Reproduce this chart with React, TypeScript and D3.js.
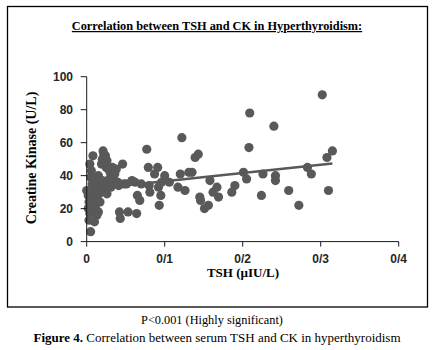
import * as d3 from "d3";

// TSH (µIU/L) values of each patient
const tsh = [
  0.0, 0.002, 0.003, 0.002, 0.004, 0.003, 0.005, 0.004, 0.006, 0.008, 0.005, 0.007,
  0.009, 0.006, 0.008, 0.01, 0.007, 0.009, 0.011, 0.012, 0.013, 0.014, 0.012, 0.015,
  0.016, 0.017, 0.015, 0.018, 0.019, 0.02, 0.021, 0.022, 0.024, 0.026, 0.025, 0.028,
  0.02, 0.022, 0.024, 0.026, 0.027, 0.029, 0.03, 0.031, 0.032, 0.033, 0.034, 0.035,
  0.036, 0.038, 0.04, 0.041, 0.042, 0.043, 0.046, 0.048, 0.051, 0.053, 0.013, 0.01,
  0.058, 0.062, 0.064, 0.065, 0.068, 0.07, 0.077, 0.079, 0.08, 0.081, 0.087, 0.091,
  0.092, 0.093, 0.095, 0.096, 0.1, 0.106, 0.117, 0.12, 0.122, 0.126, 0.131, 0.135,
  0.139, 0.143, 0.145, 0.146, 0.151, 0.156, 0.158, 0.162, 0.167, 0.169, 0.186, 0.19,
  0.201, 0.205, 0.208, 0.209, 0.224, 0.226, 0.24, 0.242, 0.242, 0.259, 0.272, 0.283,
  0.288, 0.302, 0.308, 0.31, 0.315,
];

// Creatine kinase (U/L) values, same order
const ck = [
  31, 28, 24, 20, 17, 13, 6, 47, 43, 52, 39, 35,
  33, 30, 27, 25, 22, 19, 21, 28, 31, 35, 38, 40,
  29, 24, 18, 33, 47, 50, 55, 53, 52, 49, 45, 44,
  37, 34, 31, 29, 36, 38, 42, 33, 35, 45, 39, 37,
  41, 44, 36, 34, 18, 14, 47, 35, 35, 18, 16, 12,
  37, 36, 17, 28, 25, 35, 56, 45, 34, 30, 41, 45,
  33, 22, 28, 36, 40, 36, 33, 41, 63, 31, 42, 42,
  51, 53, 27, 25, 20, 22, 37, 30, 33, 27, 30, 34,
  42, 38, 57, 78, 28, 41, 70, 40, 37, 31, 22, 45,
  41, 89, 51, 31, 55,
];

const xTicks = [0, 0.1, 0.2, 0.3, 0.4];
const xTickLabels = ["0", "0/1", "0/2", "0/3", "0/4"];
const yTicks = [0, 20, 40, 60, 80, 100];

const App = () => {
  const width = 439;
  const height = 350;
  const margin = { top: 76.7, right: 40.3, bottom: 108.4, left: 86.7 };

  const x = d3
    .scaleLinear()
    .domain([0, 0.4])
    .range([margin.left, width - margin.right]);
  const y = d3
    .scaleLinear()
    .domain([0, 100])
    .range([height - margin.bottom, margin.top]);

  const points = tsh.map((t, i) => ({ t, c: ck[i] }));

  // least squares trendline over the data range
  const mx = d3.mean(tsh) || 0;
  const my = d3.mean(ck) || 0;
  const sxy = d3.sum(points, (p) => (p.t - mx) * (p.c - my));
  const sxx = d3.sum(points, (p) => (p.t - mx) ** 2);
  const slope = sxy / sxx;
  const intercept = my - slope * mx;
  const [tMin, tMax] = d3.extent(tsh) as [number, number];
  const trend = d3
    .line<number>()
    .x((t) => x(t))
    .y((t) => y(intercept + slope * t))([tMin, tMax]);

  const axisColor = "#1a1a1a";
  const dotColor = "#595959";
  const y0 = y(0);

  return (
    <svg
      width={width}
      height={height}
      style={{ position: "absolute", left: 0, top: 0, background: "#fff" }}
    >
      <rect x={7.5} y={6.5} width={420} height={300.5} fill="none" stroke="#000" strokeWidth={1.3} />
      <text
        x={217}
        y={30}
        textAnchor="middle"
        fontFamily="Liberation Serif"
        fontWeight="bold"
        fontSize={12.3}
        textDecoration="underline"
      >
        Correlation between TSH and CK in Hyperthyroidism:
      </text>

      {points.map((p, i) => (
        <circle key={i} cx={x(p.t)} cy={y(p.c)} r={4.6} fill={dotColor} />
      ))}
      <path d={trend || ""} stroke={dotColor} strokeWidth={2.5} fill="none" />

      <line x1={x(0)} x2={x(0)} y1={y(100)} y2={y0} stroke={axisColor} />
      {yTicks.map((v) => (
        <g key={v}>
          <line x1={x(0) - 6} x2={x(0)} y1={y(v)} y2={y(v)} stroke={axisColor} />
          <text
            x={73}
            y={y(v)}
            dy="0.35em"
            textAnchor="end"
            fontFamily="Liberation Sans"
            fontWeight="bold"
            fontSize={12}
            fill="#262626"
          >
            {v}
          </text>
        </g>
      ))}

      <line x1={x(0)} x2={x(0.4)} y1={y0} y2={y0} stroke={axisColor} />
      {xTicks.map((v, i) => (
        <g key={v}>
          <line x1={x(v)} x2={x(v)} y1={y0} y2={y0 + 5} stroke={axisColor} />
          <text
            x={x(v)}
            y={259}
            dy="0.35em"
            textAnchor="middle"
            fontFamily="Liberation Sans"
            fontWeight="bold"
            fontSize={12}
            fill="#262626"
          >
            {xTickLabels[i]}
          </text>
        </g>
      ))}

      <text
        x={243}
        y={277}
        textAnchor="middle"
        fontFamily="Liberation Serif"
        fontWeight="bold"
        fontSize={13}
      >
        TSH (µIU/L)
      </text>
      <text
        transform="translate(36,158) rotate(-90)"
        textAnchor="middle"
        fontFamily="Liberation Serif"
        fontWeight="bold"
        fontSize={14}
      >
        Creatine Kinase (U/L)
      </text>

      <text x={212} y={324} textAnchor="middle" fontFamily="Liberation Serif" fontSize={12.3}>
        P&lt;0.001 (Highly significant)
      </text>
      <text x={217} y={342} textAnchor="middle" fontFamily="Liberation Serif" fontSize={13}>
        <tspan fontWeight="bold">Figure 4.</tspan> Correlation between serum TSH and CK in hyperthyroidism
      </text>
    </svg>
  );
};

export default App;
